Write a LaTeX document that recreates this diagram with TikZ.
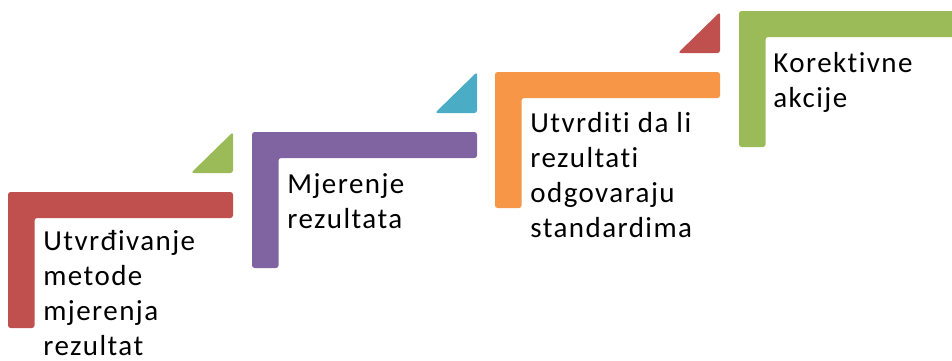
\documentclass[tikz,border=0pt]{standalone}
\usepackage{fontspec}
\setmainfont{Carlito}[LetterSpace=5, Ligatures=NoCommon]
\definecolor{crvena}{HTML}{C0504D}
\definecolor{ljubicasta}{HTML}{8064A2}
\definecolor{narandzasta}{HTML}{F79646}
\definecolor{zelena}{HTML}{9BBB59}
\definecolor{plava}{HTML}{4BACC6}
\begin{document}
\begin{tikzpicture}[x=0.02cm, y=-0.02cm,
  tekst/.style={anchor=base west, align=left, inner sep=0pt,
    font=\fontsize{16.5pt}{19.85pt}\selectfont}]
  \clip (0,0) rectangle (952,360);

  % Stepenice
  \foreach \x/\y/\boja in {8/192/crvena, 252/132/ljubicasta, 495/72/narandzasta, 739/11/zelena} {
    \fill[\boja, rounded corners=1.5] (\x,\y+136) -- (\x,\y) -- (\x+225,\y) -- (\x+225,\y+26)
      -- (\x+26.5,\y+26) -- (\x+26.5,\y+136) -- cycle;
  }

  % Trouglovi
  \foreach \x/\y/\boja in {233/192/zelena, 477/132/plava, 720/72/crvena} {
    \fill[\boja, rounded corners=1.5] (\x-42,\y-19) -- (\x,\y-19) -- (\x,\y-60) -- cycle;
  }

  % Tekst (tacka je na zadnjem redu)
  \node[tekst] (korak1) at (43,355) {Utvrđivanje\\metode\\mjerenja\\rezultat};
  \node[tekst] (korak2) at (287,228) {Mjerenje\\rezultata};
  \node[tekst] (korak3) at (530,237) {Utvrditi da li\\rezultati\\odgovaraju\\standardima};
  \node[tekst] (korak4) at (773,107) {Korektivne\\akcije};
\end{tikzpicture}
\end{document}
